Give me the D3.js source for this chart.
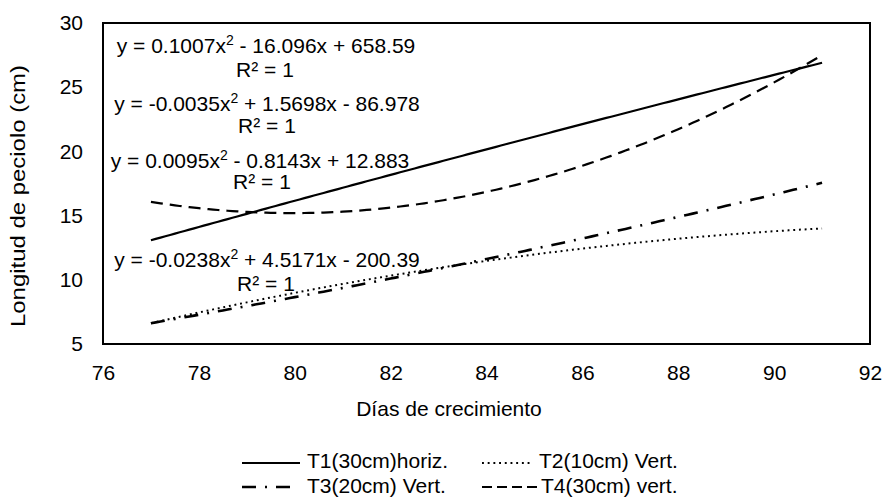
<!DOCTYPE html>
<html>
<head>
<meta charset="utf-8">
<script src="https://cdn.jsdelivr.net/npm/d3@7"></script>
<style>
  body { margin: 0; background: #fff; }
  svg { display: block; font-family: "Liberation Sans", Arial, sans-serif; }
</style>
</head>
<body>
<svg id="chart" width="886" height="497"></svg>
<script>
// Petiole length (cm) per treatment on each measurement day
const days = [77, 84, 91];
const seriesNames = ["T1(30cm)horiz.", "T2(10cm) Vert.", "T3(20cm) Vert.", "T4(30cm) vert."];
const t1Values = [13.08, 20.16, 26.90];
const t2Values = [6.62, 11.47, 14.00];
const t3Values = [6.62, 11.62, 17.55];
const t4Values = [16.07, 16.85, 27.50];

const xTicks = [76, 78, 80, 82, 84, 86, 88, 90, 92];
const yTicks = [5, 10, 15, 20, 25, 30];

// Trendline equation labels, top to bottom (T4, T1, T3, T2)
const eqLead = ["y = 0.1007x", "y = -0.0035x", "y = 0.0095x", "y = -0.0238x"];
const eqTail = [" - 16.096x + 658.59", " + 1.5698x - 86.978", " - 0.8143x + 12.883", " + 4.5171x - 200.39"];
const eqR2 = ["R\u00B2 = 1", "R\u00B2 = 1", "R\u00B2 = 1", "R\u00B2 = 1"];

const xTitle = "Días de crecimiento";
const yTitle = "Longitud de peciolo (cm)";

// ---- layout & styles ----
const svg = d3.select("#chart");
const FONT = 21;
const plot = { left: 103, right: 870, top: 23, bottom: 344 };

const x = d3.scaleLinear().domain([76, 92]).range([plot.left, plot.right]);
const y = d3.scaleLinear().domain([5, 30]).range([plot.bottom, plot.top]);

const lineStyles = [
  { dash: null,        legendDash: null,       width: 2.2 },
  { dash: "1.9,3.8",   legendDash: "1.9,3.8",  width: 2.0 },
  { dash: "14,9,2,9",  legendDash: "14,9,2,9", width: 2.6 },
  { dash: "12,7",      legendDash: "10,5",     width: 2.2 }
];
const eqPos = [
  { cx: 266, by: 53,  rcx: 265, rby: 77 },
  { cx: 267, by: 111, rcx: 267, rby: 133 },
  { cx: 260, by: 168, rcx: 262, rby: 189 },
  { cx: 267, by: 267, rcx: 266, rby: 291 }
];

// Least-squares polynomial (order 2) trendline
function fitQuadratic(xs, ys) {
  const m = d3.mean(xs);
  const u = xs.map(v => v - m);
  const S = k => d3.sum(u, v => Math.pow(v, k));
  const T = k => d3.sum(u, (v, i) => Math.pow(v, k) * ys[i]);
  const A = [[S(0), S(1), S(2), T(0)],
             [S(1), S(2), S(3), T(1)],
             [S(2), S(3), S(4), T(2)]];
  for (let i = 0; i < 3; i++) {
    for (let j = i + 1; j < 3; j++) {
      const f = A[j][i] / A[i][i];
      for (let k = i; k < 4; k++) A[j][k] -= f * A[i][k];
    }
  }
  const c = [0, 0, 0];
  for (let i = 2; i >= 0; i--) {
    let s = A[i][3];
    for (let k = i + 1; k < 3; k++) s -= A[i][k] * c[k];
    c[i] = s / A[i][i];
  }
  return xv => c[0] + c[1] * (xv - m) + c[2] * (xv - m) * (xv - m);
}

const series = [t1Values, t2Values, t3Values, t4Values].map((vals, i) => {
  const f = fitQuadratic(days, vals);
  const x0 = d3.min(days), x1 = d3.max(days);
  const pts = d3.range(x0, x1 + 1e-9, 0.1).map(d => [d, f(d)]);
  return { name: seriesNames[i], pts, style: lineStyles[i] };
});

// ---- axes ----
const xAxis = svg.append("g")
  .attr("transform", `translate(0,${plot.bottom})`)
  .call(d3.axisBottom(x).tickValues(xTicks).tickSize(0).tickPadding(21).tickFormat(d3.format("d")));
const yAxis = svg.append("g")
  .attr("transform", `translate(${plot.left},0)`)
  .call(d3.axisLeft(y).tickValues(yTicks).tickSize(0).tickPadding(20).tickFormat(d3.format("d")));

[xAxis, yAxis].forEach(g => {
  g.attr("font-size", FONT).attr("font-family", null);
  g.select(".domain").remove();
  g.selectAll("text").attr("fill", "#000");
});

// plot frame
svg.append("rect")
  .attr("x", plot.left).attr("y", plot.top)
  .attr("width", plot.right - plot.left).attr("height", plot.bottom - plot.top)
  .attr("fill", "none").attr("stroke", "#000").attr("stroke-width", 2);

// ---- trendlines ----
const line = d3.line().x(d => x(d[0])).y(d => y(d[1]));
svg.append("g").selectAll("path")
  .data(series)
  .join("path")
  .attr("d", d => line(d.pts))
  .attr("fill", "none")
  .attr("stroke", "#000")
  .attr("stroke-width", d => d.style.width)
  .attr("stroke-dasharray", d => d.style.dash);

// ---- equation labels ----
const eqG = svg.append("g").attr("font-size", FONT).attr("fill", "#000");
eqLead.forEach((lead, i) => {
  const p = eqPos[i];
  const t = eqG.append("text").attr("x", p.cx).attr("y", p.by).attr("text-anchor", "middle");
  t.append("tspan").text(lead);
  t.append("tspan").attr("font-size", 14).attr("dy", -8).text("2");
  t.append("tspan").attr("dy", 8).text(eqTail[i]);
  eqG.append("text").attr("x", p.rcx).attr("y", p.rby).attr("text-anchor", "middle").text(eqR2[i]);
});

// ---- axis titles ----
svg.append("text")
  .attr("x", 449).attr("y", 416)
  .attr("text-anchor", "middle").attr("font-size", FONT)
  .text(xTitle);
svg.append("text")
  .attr("transform", "translate(25,196) rotate(-90)")
  .attr("text-anchor", "middle").attr("font-size", FONT)
  .attr("textLength", 262).attr("lengthAdjust", "spacingAndGlyphs")
  .text(yTitle);

// ---- legend ----
const legendPos = [
  { x0: 242, x1: 300, tx: 307, ly: 463, ty: 468 },
  { x0: 482, x1: 532, tx: 539, ly: 463, ty: 468 },
  { x0: 242, x1: 290, tx: 307, ly: 487, ty: 493 },
  { x0: 482, x1: 537, tx: 541, ly: 487, ty: 493 }
];
const lg = svg.append("g").attr("font-size", FONT);
series.forEach((s, i) => {
  const p = legendPos[i];
  lg.append("line")
    .attr("x1", p.x0).attr("x2", p.x1).attr("y1", p.ly).attr("y2", p.ly)
    .attr("stroke", "#000")
    .attr("stroke-width", s.style.width)
    .attr("stroke-dasharray", s.style.legendDash);
  lg.append("text").attr("x", p.tx).attr("y", p.ty).text(s.name);
});
</script>
</body>
</html>
